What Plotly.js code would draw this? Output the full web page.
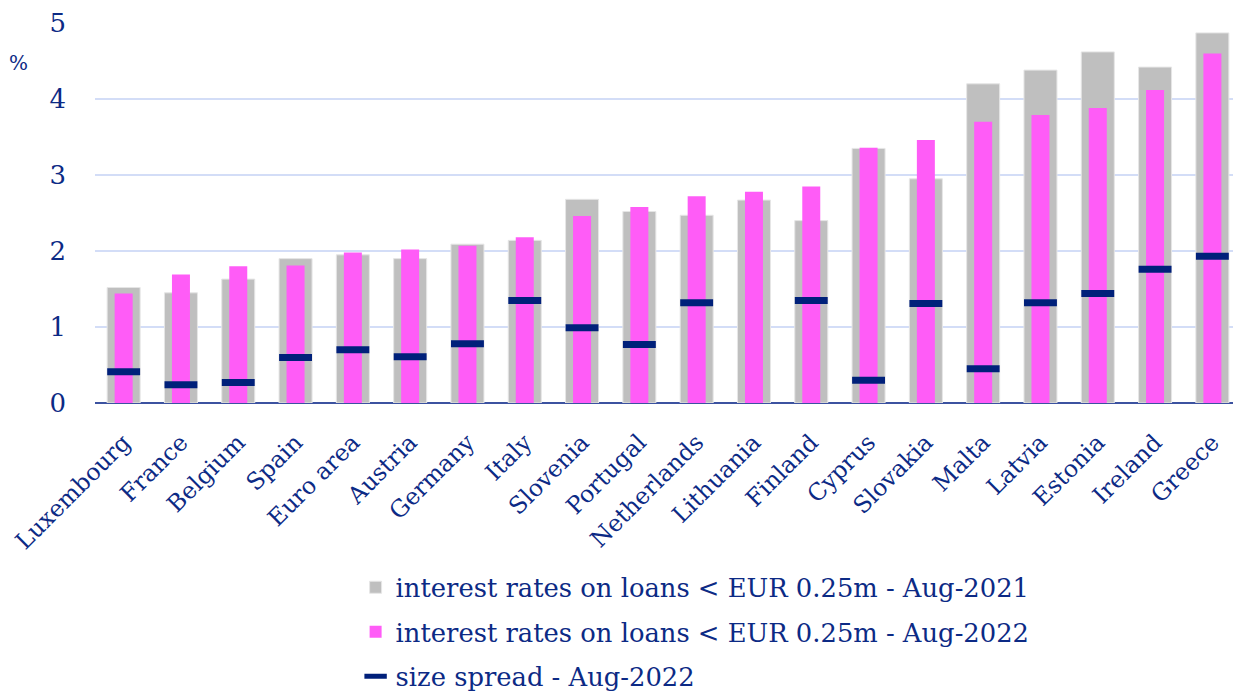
<!DOCTYPE html>
<html>
<head>
<meta charset="utf-8">
<script src="https://cdn.plot.ly/plotly-3.0.1.min.js"></script>
<style>html,body{margin:0;padding:0;background:#fff;}#chart{width:1233px;height:692px;}</style>
</head>
<body>
<div id="chart"></div>
<script>
const countries = ["Luxembourg","France","Belgium","Spain","Euro area","Austria","Germany","Italy","Slovenia","Portugal","Netherlands","Lithuania","Finland","Cyprus","Slovakia","Malta","Latvia","Estonia","Ireland","Greece"];
const rates2021 = [1.52,1.45,1.63,1.90,1.95,1.90,2.09,2.14,2.68,2.52,2.47,2.67,2.40,3.35,2.95,4.20,4.38,4.62,4.42,4.87];
const rates2022 = [1.44,1.69,1.80,1.81,1.98,2.02,2.07,2.18,2.46,2.58,2.72,2.78,2.85,3.36,3.46,3.70,3.79,3.88,4.12,4.60];
const spread2022 = [0.41,0.24,0.27,0.60,0.70,0.61,0.78,1.35,0.99,0.77,1.32,null,1.35,0.30,1.31,0.45,1.32,1.44,1.76,1.93];
const yTicks = [0,1,2,3,4,5];

const navy = "#0c2a85";
const fontFam = "'DejaVu Serif', 'Liberation Serif', serif";

const traces = [
  {type:"bar", x:countries, y:rates2021, name:"interest rates on loans < EUR 0.25m - Aug-2021",
   legendgroup:"a", marker:{color:"#bfbfbf", line:{color:"#e6e6e6", width:1}}, width:0.576, hoverinfo:"y"},
  {type:"bar", x:countries, y:rates2022, name:"interest rates on loans < EUR 0.25m - Aug-2022",
   legendgroup:"b", marker:{color:"#ff5cf7"}, width:0.314, hoverinfo:"y"},
  {type:"scatter", mode:"markers", x:countries, y:spread2022, name:"size spread - Aug-2022",
   legendgroup:"c", marker:{symbol:"line-ew-open", size:23.5, color:"#00207a", line:{color:"#00207a", width:7}}, hoverinfo:"y"}
];

const layout = {
  width:1233, height:692,
  margin:{l:95, r:0, t:23, b:289},
  paper_bgcolor:"#fff", plot_bgcolor:"#fff",
  barmode:"overlay",
  font:{family:fontFam, color:navy, size:22},
  xaxis:{
    type:"category", range:[-0.5,19.36], tickangle:-45,
    showgrid:false, zeroline:false, showline:false, ticks:"",
    ticklabelstandoff:20,
    tickfont:{size:23.5, color:navy}, automargin:false
  },
  yaxis:{
    range:[0,5], tickvals:yTicks, showgrid:true, gridcolor:"#d3ddf7", gridwidth:1.5,
    zeroline:true, zerolinecolor:"#3c52a0", zerolinewidth:2,
    ticks:"", ticklabelstandoff:28, tickfont:{size:26, color:navy}, automargin:false
  },
  showlegend:true,
  legend:{orientation:"v", x:0.229, xanchor:"left", yref:"container", y:0.185, yanchor:"top",
    font:{size:25.8, color:navy, family:fontFam}, itemwidth:30, tracegroupgap:8,
    bgcolor:"rgba(0,0,0,0)"},
  annotations:[
    {text:"%", xref:"paper", yref:"paper", x:-0.067, y:0.895, xanchor:"center", yanchor:"middle",
     showarrow:false, font:{size:20, color:navy, family:fontFam}}
  ]
};

Plotly.newPlot("chart", traces, layout, {displayModeBar:false, staticPlot:true});
</script>
</body>
</html>
